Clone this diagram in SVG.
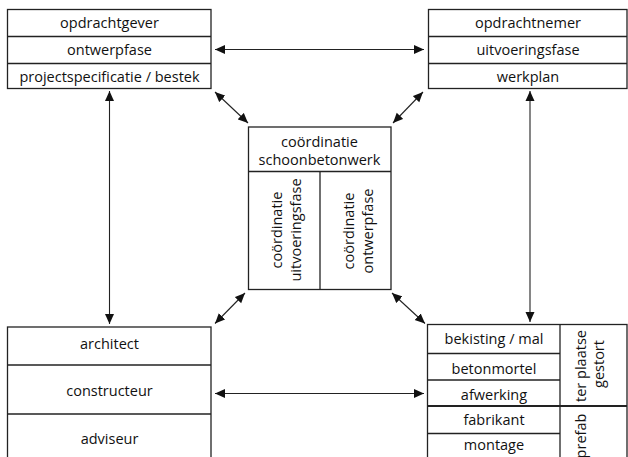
<svg xmlns="http://www.w3.org/2000/svg" width="628" height="457" viewBox="0 0 628 457">
<defs>
<marker id="ah" viewBox="0 0 10 10" refX="10" refY="5" markerWidth="10" markerHeight="10" markerUnits="userSpaceOnUse" orient="auto-start-reverse">
<path d="M0,0.5 L10,5 L0,9.5 z" fill="#111"/>
</marker>
<style>
.b{fill:#fff;stroke:#222;stroke-width:1.3}
.l{fill:none;stroke:#222;stroke-width:1.3}
.t{font-family:"Open Sans","Noto Sans",sans-serif;font-size:14.5px;fill:#111;text-anchor:middle}
.c{fill:none;stroke:#222;stroke-width:1.1;marker-start:url(#ah);marker-end:url(#ah)}
</style>
</defs>
<rect width="628" height="457" fill="#fff"/>
<g id="connectors">
<line class="c" x1="215" y1="49.5" x2="424" y2="49.5"/>
<line class="c" x1="215" y1="393.5" x2="424" y2="393.5"/>
<line class="c" x1="109.5" y1="91" x2="109.5" y2="324"/>
<line class="c" x1="530" y1="91" x2="530" y2="322"/>
<line class="c" x1="215" y1="92" x2="248" y2="123"/>
<line class="c" x1="423" y1="92" x2="393" y2="123"/>
<line class="c" x1="245" y1="293" x2="215" y2="323.5"/>
<line class="c" x1="392" y1="293" x2="425" y2="323.5"/>
</g>
<g id="opdrachtgever">
<rect class="b" x="7.5" y="9.5" width="203.5" height="79"/>
<line class="l" x1="7.5" y1="36.5" x2="211" y2="36.5"/>
<line class="l" x1="7.5" y1="63.5" x2="211" y2="63.5"/>
<text class="t" x="109.5" y="28">opdrachtgever</text>
<text class="t" x="109.5" y="55">ontwerpfase</text>
<text class="t" x="109.5" y="82">projectspecificatie / bestek</text>
</g>
<g id="opdrachtnemer">
<rect class="b" x="428.5" y="9.5" width="198.5" height="79"/>
<line class="l" x1="428.5" y1="36.5" x2="627" y2="36.5"/>
<line class="l" x1="428.5" y1="63.5" x2="627" y2="63.5"/>
<text class="t" x="528" y="28">opdrachtnemer</text>
<text class="t" x="528" y="55">uitvoeringsfase</text>
<text class="t" x="528" y="82">werkplan</text>
</g>
<g id="coordinatie">
<rect class="b" x="248.5" y="127" width="142.5" height="162.5"/>
<line class="l" x1="248.5" y1="171.5" x2="391" y2="171.5"/>
<line class="l" x1="320" y1="171.5" x2="320" y2="289.5"/>
<text class="t" x="319.5" y="147">coördinatie</text>
<text class="t" x="319.5" y="164.5">schoonbetonwerk</text>
<text class="t" transform="translate(282,230) rotate(-90)">coördinatie</text>
<text class="t" transform="translate(300.5,230) rotate(-90)">uitvoeringsfase</text>
<text class="t" transform="translate(354,231) rotate(-90)">coördinatie</text>
<text class="t" transform="translate(372.5,231) rotate(-90)">ontwerpfase</text>
</g>
<g id="ontwerpers">
<rect class="b" x="7.5" y="327" width="203.5" height="140"/>
<line class="l" x1="7.5" y1="365" x2="211" y2="365"/>
<line class="l" x1="7.5" y1="414" x2="211" y2="414"/>
<text class="t" x="109.5" y="348.5">architect</text>
<text class="t" x="109.5" y="396">constructeur</text>
<text class="t" x="109.5" y="443.5">adviseur</text>
</g>
<g id="uitvoering">
<rect class="b" x="427.5" y="324.5" width="199.5" height="142"/>
<line class="l" x1="560" y1="324.5" x2="560" y2="467"/>
<line class="l" x1="427.5" y1="353.5" x2="560" y2="353.5"/>
<line class="l" x1="427.5" y1="380" x2="560" y2="380"/>
<line class="l" x1="427.5" y1="406" x2="627" y2="406" style="stroke-width:2"/>
<line class="l" x1="427.5" y1="433.5" x2="560" y2="433.5"/>
<text class="t" x="494" y="343.5">bekisting / mal</text>
<text class="t" x="494" y="373.5">betonmortel</text>
<text class="t" x="494" y="399.5">afwerking</text>
<text class="t" x="494" y="425">fabrikant</text>
<text class="t" x="494" y="450">montage</text>
<text class="t" transform="translate(586,366) rotate(-90)">ter plaatse</text>
<text class="t" transform="translate(603.5,364) rotate(-90)">gestort</text>
<text class="t" transform="translate(586,436) rotate(-90)">prefab</text>
</g>
</svg>
